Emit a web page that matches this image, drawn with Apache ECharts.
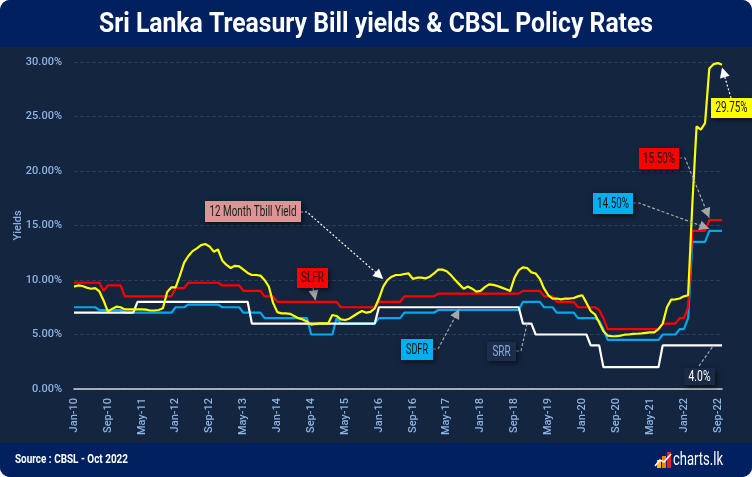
<!DOCTYPE html>
<html>
<head>
<meta charset="utf-8">
<script src="https://cdn.jsdelivr.net/npm/echarts@6/dist/echarts.min.js"></script>
<style>
html,body{margin:0;padding:0;background:#ffffff;}
#wrap{position:absolute;left:0;top:0;width:752px;height:477px;border-radius:10px;overflow:hidden;background:#13253f;}
#chart{width:752px;height:477px;}
</style>
</head>
<body>
<div id="wrap"><div id="chart"></div></div>
<script>
// ---------- DATA ----------
const monthNames = ['Jan','Feb','Mar','Apr','May','Jun','Jul','Aug','Sep','Oct','Nov','Dec'];
const categories = [];
for (let y = 10; y <= 22; y++) {
  for (let m = 0; m < 12; m++) {
    if (y === 22 && m > 9) break;
    categories.push(monthNames[m] + '-' + y);
  }
}

const tbill12m = [
  9.39, 9.5, 9.45, 9.3, 9.2, 9.25, 8.95, 8.1, 7.1, 7.35,
  7.55, 7.5, 7.3, 7.3, 7.3, 7.3, 7.3, 7.28, 7.2, 7.2,
  7.25, 7.4, 8.9, 9.33, 9.33, 10.4, 11.6, 12.2, 12.65, 12.9,
  13.2, 13.3, 13.08, 12.6, 12.8, 11.8, 11.38, 11.1, 11.3, 11.25,
  10.95, 10.65, 10.46, 10.46, 10.4, 10.0, 9.4, 7.9, 7.05, 6.94,
  6.94, 6.9, 6.7, 6.5, 6.38, 6.2, 5.9, 5.97, 6.02, 6.02,
  6.02, 6.79, 6.7, 6.38, 6.33, 6.45, 6.7, 6.95, 7.15, 7.0,
  7.08, 7.4, 8.3, 9.4, 10.0, 10.3, 10.46, 10.46, 10.55, 10.6,
  10.1, 10.21, 10.21, 10.15, 10.3, 10.6, 10.95, 10.95, 10.8, 10.45,
  10.0, 9.6, 9.2, 9.4, 9.2, 8.93, 9.0, 9.35, 9.6, 9.55,
  9.45, 9.3, 9.15, 9.0, 10.2, 10.9, 11.16, 11.1, 10.7, 10.6,
  10.1, 9.2, 8.6, 8.3, 8.3, 8.23, 8.3, 8.3, 8.35, 8.5,
  8.6, 7.9, 7.15, 6.85, 6.1, 5.3, 4.9, 4.84, 4.84, 4.9,
  4.98, 5.0, 5.05, 5.07, 5.1, 5.15, 5.2, 5.2, 5.5, 6.0,
  7.5, 8.2, 8.23, 8.3, 8.5, 8.6, 17.0, 24.1, 23.8, 24.4,
  29.4, 29.8, 29.9, 29.75
];

const slfr = [
  9.75, 9.75, 9.75, 9.75, 9.75, 9.75, 9.75, 9.0, 9.5, 9.5,
  9.5, 9.5, 8.5, 8.5, 8.5, 8.5, 8.5, 8.5, 8.5, 8.5,
  8.5, 8.5, 8.5, 8.5, 9.25, 9.25, 9.25, 9.75, 9.75, 9.75,
  9.75, 9.75, 9.75, 9.75, 9.75, 9.5, 9.5, 9.5, 9.5, 9.5,
  9.0, 9.0, 9.0, 9.0, 9.0, 8.5, 8.5, 8.5, 8.0, 8.0,
  8.0, 8.0, 8.0, 8.0, 8.0, 8.0, 8.0, 8.0, 8.0, 8.0,
  8.0, 8.0, 8.0, 7.5, 7.5, 7.5, 7.5, 7.5, 7.5, 7.5,
  7.5, 7.5, 8.0, 8.0, 8.0, 8.0, 8.0, 8.0, 8.5, 8.5,
  8.5, 8.5, 8.5, 8.5, 8.5, 8.5, 8.75, 8.75, 8.75, 8.75,
  8.75, 8.75, 8.75, 8.75, 8.75, 8.75, 8.75, 8.75, 8.75, 8.75,
  8.75, 8.75, 8.75, 8.75, 8.75, 8.75, 9.0, 9.0, 9.0, 9.0,
  9.0, 8.5, 8.5, 8.5, 8.0, 8.0, 8.0, 8.0, 8.0, 7.5,
  7.5, 7.5, 7.5, 7.5, 7.25, 6.5, 5.5, 5.5, 5.5, 5.5,
  5.5, 5.5, 5.5, 5.5, 5.5, 5.5, 5.5, 5.5, 5.5, 6.0,
  6.0, 6.0, 6.0, 6.5, 6.5, 7.5, 14.5, 14.5, 14.5, 14.5,
  15.5, 15.5, 15.5, 15.5
];

const sdfr = [
  7.5, 7.5, 7.5, 7.5, 7.5, 7.5, 7.25, 7.25, 7.25, 7.25,
  7.25, 7.25, 7.0, 7.0, 7.0, 7.0, 7.0, 7.0, 7.0, 7.0,
  7.0, 7.0, 7.0, 7.0, 7.5, 7.5, 7.5, 7.75, 7.75, 7.75,
  7.75, 7.75, 7.75, 7.75, 7.75, 7.5, 7.5, 7.5, 7.5, 7.5,
  7.0, 7.0, 7.0, 7.0, 7.0, 6.5, 6.5, 6.5, 6.5, 6.5,
  6.5, 6.5, 6.5, 6.5, 6.5, 6.5, 5.0, 5.0, 5.0, 5.0,
  5.0, 5.0, 6.5, 6.0, 6.0, 6.0, 6.0, 6.0, 6.0, 6.0,
  6.0, 6.0, 6.5, 6.5, 6.5, 6.5, 6.5, 6.5, 7.0, 7.0,
  7.0, 7.0, 7.0, 7.0, 7.0, 7.0, 7.25, 7.25, 7.25, 7.25,
  7.25, 7.25, 7.25, 7.25, 7.25, 7.25, 7.25, 7.25, 7.25, 7.25,
  7.25, 7.25, 7.25, 7.25, 7.25, 7.25, 8.0, 8.0, 8.0, 8.0,
  8.0, 7.5, 7.5, 7.5, 7.0, 7.0, 7.0, 7.0, 7.0, 6.5,
  6.5, 6.5, 6.5, 6.5, 6.25, 5.5, 4.5, 4.5, 4.5, 4.5,
  4.5, 4.5, 4.5, 4.5, 4.5, 4.5, 4.5, 4.5, 4.5, 5.0,
  5.0, 5.0, 5.0, 5.5, 5.5, 6.5, 13.5, 13.5, 13.5, 13.5,
  14.5, 14.5, 14.5, 14.5
];

const srr = [
  7, 7, 7, 7, 7, 7, 7, 7, 7, 7,
  7, 7, 7, 7, 7, 8, 8, 8, 8, 8,
  8, 8, 8, 8, 8, 8, 8, 8, 8, 8,
  8, 8, 8, 8, 8, 8, 8, 8, 8, 8,
  8, 8, 6, 6, 6, 6, 6, 6, 6, 6,
  6, 6, 6, 6, 6, 6, 6, 6, 6, 6,
  6, 6, 6, 6, 6, 6, 6, 6, 6, 6,
  6, 6, 7.5, 7.5, 7.5, 7.5, 7.5, 7.5, 7.5, 7.5,
  7.5, 7.5, 7.5, 7.5, 7.5, 7.5, 7.5, 7.5, 7.5, 7.5,
  7.5, 7.5, 7.5, 7.5, 7.5, 7.5, 7.5, 7.5, 7.5, 7.5,
  7.5, 7.5, 7.5, 7.5, 7.5, 7.5, 6, 6, 6, 5,
  5, 5, 5, 5, 5, 5, 5, 5, 5, 5,
  5, 5, 4, 4, 4, 2, 2, 2, 2, 2,
  2, 2, 2, 2, 2, 2, 2, 2, 2, 4,
  4, 4, 4, 4, 4, 4, 4, 4, 4, 4,
  4, 4, 4, 4
];

const yTicks = [0, 5, 10, 15, 20, 25, 30];

// ---------- CHART ----------
const FONT = "Roboto, 'Noto Sans', sans-serif";
const LBL = '#8eb4e3';
const chart = echarts.init(document.getElementById('chart'), null, {renderer: 'canvas'});

chart.setOption({
  animation: false,
  backgroundColor: 'transparent',
  grid: {left: 74, right: 30, top: 62, bottom: 88, containLabel: false, outerBoundsMode: 'none'},
  xAxis: {
    type: 'category',
    data: categories,
    boundaryGap: false,
    axisLine: {lineStyle: {color: '#d9d9d9', width: 1.5}},
    axisTick: {show: false},
    axisLabel: {interval: 7, rotate: 90, color: LBL, fontSize: 11, fontWeight: 500, fontFamily: FONT, margin: 9},
    splitLine: {show: false}
  },
  yAxis: {
    type: 'value',
    min: yTicks[0], max: yTicks[yTicks.length - 1], interval: 5,
    name: 'Yields', nameLocation: 'middle', nameGap: 50, nameMoveOverlap: false,
    nameTextStyle: {color: LBL, fontSize: 11, fontWeight: 500, fontFamily: FONT},
    axisLine: {show: false},
    axisTick: {show: false},
    axisLabel: {color: LBL, fontSize: 11, fontWeight: 500, fontFamily: FONT, margin: 12,
      formatter: v => v.toFixed(2) + '%'},
    splitLine: {lineStyle: {color: '#2b3d5a', type: 'dashed', width: 1}}
  },
  series: [
    {name: 'SDFR', type: 'line', data: sdfr, symbol: 'none', lineStyle: {color: '#00a8ec', width: 2.2}, z: 2},
    {name: 'SRR', type: 'line', data: srr, symbol: 'none', lineStyle: {color: '#ffffff', width: 2.2}, z: 3},
    {name: 'SLFR', type: 'line', data: slfr, symbol: 'none', lineStyle: {color: '#ff0000', width: 2.2}, z: 4},
    {name: '12 Month Tbill Yield', type: 'line', data: tbill12m, symbol: 'none', lineStyle: {color: '#ffff00', width: 2.2}, z: 5}
  ]
});

const mctx = document.createElement('canvas').getContext('2d');
function fitScale(text, font, targetW) {
  mctx.font = font;
  const w = mctx.measureText(text).width;
  return w > 0 ? targetW / w : 1;
}

function px(idx, val) { return chart.convertToPixel({gridIndex: 0}, [idx, val]); }

function label(x, y, text, color, font, targetW, align) {
  return {type: 'text', x: x, y: y, z: 101, scaleX: fitScale(text, font, targetW),
    style: {text: text, fill: color, font: font, align: align || 'center', verticalAlign: 'middle'}};
}

function box(x, y, w, h, fill, text, textColor, fontSize, textW) {
  const font = (fontSize || 14) + 'px ' + FONT;
  return [
    {type: 'rect', shape: {x: x, y: y, width: w, height: h}, z: 100,
     style: {fill: fill, shadowBlur: 5, shadowColor: 'rgba(0,0,0,0.55)', shadowOffsetX: 2, shadowOffsetY: 2}},
    label(x + w / 2, y + h / 2 + 0.5, text, textColor, font, textW)
  ];
}

function arrow(pts, color, dash, head) {
  const els = [{type: 'polyline', z: 99, shape: {points: pts},
    style: {stroke: color, lineWidth: 1.2, lineDash: dash, fill: null}}];
  if (head) {
    const a = pts[pts.length - 2], b = pts[pts.length - 1];
    const dx = b[0] - a[0], dy = b[1] - a[1];
    const L = Math.sqrt(dx * dx + dy * dy);
    const ux = dx / L, uy = dy / L;
    const hl = 10, hw = 5;
    const bx = b[0] - ux * hl, by = b[1] - uy * hl;
    els.push({type: 'polygon', z: 99, shape: {points: [
      [b[0], b[1]], [bx - uy * hw, by + ux * hw], [bx + uy * hw, by - ux * hw]]},
      style: {fill: color}});
  }
  return els;
}

const tTbill = px(73, 10.1);
const tSlfr = px(57, 8.15);
const tSdfr = px(91, 7.35);
const tSrr = px(107, 6.05);
const t4 = px(151, 4.0);
const t155 = px(150, 15.7);
const t145 = px(150, 14.7);
const t2975 = px(153, 29.5);

const g = [];
// title band
g.push({type: 'rect', shape: {x: 0, y: 0, width: 752, height: 47}, style: {fill: '#002060'}, z: 50});
g.push(label(376, 25, 'Sri Lanka Treasury Bill yields & CBSL Policy Rates', '#ffffff', 'bold 28px ' + FONT, 554));
// footer band
g.push({type: 'rect', shape: {x: 0, y: 443, width: 752, height: 34}, style: {fill: '#002060'}, z: 50});
g.push(label(15, 460, 'Source : CBSL - Oct 2022', '#ffffff', 'bold 12px ' + FONT, 113, 'left'));
g.push(label(673, 460, 'charts.lk', '#ffffff', '19px ' + FONT, 50, 'left'));
// logo icon
g.push({type: 'rect', z: 51, shape: {x: 657, y: 460, width: 4, height: 8}, style: {fill: '#ffc000'}});
g.push({type: 'rect', z: 51, shape: {x: 662, y: 456, width: 4, height: 12}, style: {fill: '#ff7f00'}});
g.push({type: 'rect', z: 51, shape: {x: 667, y: 452, width: 4, height: 16}, style: {fill: '#e8202a'}});
g.push({type: 'polyline', z: 52, shape: {points: [[655, 466], [660, 460], [664, 462], [671, 454]]},
  style: {stroke: '#ffffff', lineWidth: 1.5, fill: null}});

// annotations
g.push(...arrow([[301, 212], [307, 212], tTbill], '#ffffff', [2, 2], true));
g.push(...box(205, 201, 96, 21, '#d99694', '12 Month Tbill Yield', '#1a1a1a', 14, 87));

g.push(...arrow([[313, 288], tSlfr], '#a6a6a6', [3, 2], true));
g.push(...box(297, 268, 31, 20, '#ff0000', 'SLFR', '#111111', 15, 23));

g.push(...arrow([[433, 349], [438, 349], tSdfr], '#a6a6a6', [3, 2], true));
g.push(...box(401, 339, 32, 21, '#00b0f0', 'SDFR', '#111111', 15, 22));

g.push(...arrow([[516, 351], [521, 351], tSrr], '#a6a6a6', [3, 2], false));
g.push(...box(487, 342, 29, 19, '#1b2d4b', 'SRR', '#8eaadb', 15, 18));

g.push(...arrow([[699, 366], t4], '#a6a6a6', [3, 2], false));
g.push(...box(684, 368, 31, 17, '#1b2a44', '4.0%', '#ffffff', 14, 22));

g.push(...arrow([[679, 158], [685, 158], t155], '#a6a6a6', [3, 2], true));
g.push(...box(639, 148, 40, 21, '#ff0000', '15.50%', '#111111', 15, 32));

g.push(...arrow([[633, 203], [639, 203], t145], '#a6a6a6', [3, 2], true));
g.push(...box(593, 193, 40, 21, '#00b0f0', '14.50%', '#111111', 15, 32));

g.push(...arrow([[731, 98], t2975], '#ffffff', [2, 2], true));
g.push(...box(711, 98, 41, 20, '#ffff00', '29.75%', '#111111', 15, 32));

chart.setOption({graphic: {elements: g}});
</script>
</body>
</html>
